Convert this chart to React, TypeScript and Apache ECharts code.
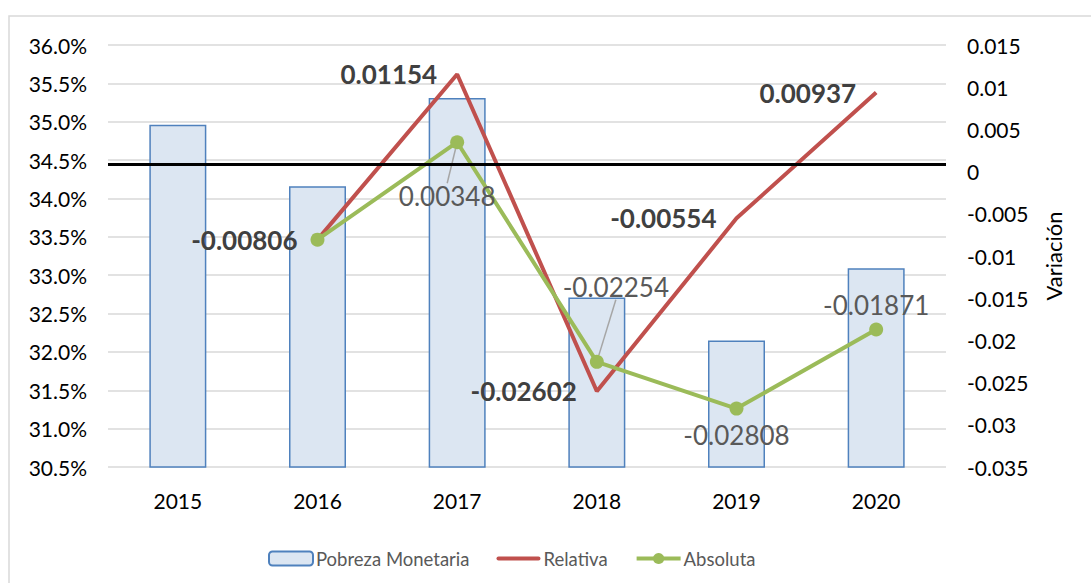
import React, { useEffect, useRef } from "react";
import * as echarts from "echarts";

const years = ["2015", "2016", "2017", "2018", "2019", "2020"];
const pobreza = [34.96, 34.16, 35.31, 32.71, 32.15, 33.09];
const relativa = [null, -0.00806, 0.01154, -0.02602, -0.00554, 0.00937];
const absoluta = [null, -0.00806, 0.00348, -0.02254, -0.02808, -0.01871];
const referenceLine = 34.44;

const FONT = "Lato";

export default function App() {
  const ref = useRef<HTMLDivElement>(null);
  useEffect(() => {
    if (!ref.current) return;
    const chart = echarts.init(ref.current, null, { renderer: "svg" });

    const absLabels: any[] = [
      { show: false },
      { show: false },
      { show: true, position: "bottom", distance: 34 },
      { show: true, position: "top", distance: 55 },
      { show: true, position: "bottom", distance: 6 },
      { show: true, position: "top", distance: 5, offset: [6, 0] },
    ];
    const absShift: any = { 2: { dx: -10, dy: 0 }, 3: { dx: 19, dy: 0 } };

    chart.setOption({
      animation: false,
      textStyle: { fontFamily: FONT },
      graphic: [
        {
          type: "rect",
          shape: { x: 9, y: 16, width: 1200, height: 700 },
          style: { fill: "none", stroke: "#d9d9d9", lineWidth: 1.5 },
          silent: true,
        },
      ],
      grid: { left: 108, right: 145, top: 45, bottom: 116 },
      legend: {
        left: 263,
        top: 544,
        itemWidth: 44,
        itemHeight: 14,
        itemGap: 27,
        lineStyle: { width: 4 },
        textStyle: { fontFamily: FONT, fontSize: 18.5, color: "#595959", padding: [0, 0, 0, -2] },
        data: [
          "Pobreza Monetaria",
          { name: "Relativa", icon: "path://M2,0 L42,0 A2,2 0 0 1 42,4 L2,4 A2,2 0 0 1 2,0 Z" },
          "Absoluta",
        ],
      },
      xAxis: {
        type: "category",
        data: years,
        axisLine: { show: false },
        axisTick: { show: false },
        axisLabel: { fontFamily: FONT, fontSize: 21, color: "#000", margin: 23 },
      },
      yAxis: [
        {
          type: "value",
          min: 30.5,
          max: 36,
          interval: 0.5,
          axisLine: { show: false },
          axisTick: { show: false },
          splitLine: { lineStyle: { color: "#d9d9d9", width: 1.5 } },
          axisLabel: {
            fontFamily: FONT,
            fontSize: 21,
            color: "#000",
            margin: 21,
            formatter: (v: number) => v.toFixed(1) + "%",
          },
        },
        {
          type: "value",
          min: -0.035,
          max: 0.015,
          interval: 0.005,
          name: "Variación",
          nameLocation: "middle",
          nameRotate: 90,
          nameGap: 96,
          nameTextStyle: { fontFamily: FONT, fontSize: 22, color: "#000" },
          axisLine: { show: false },
          axisTick: { show: false },
          splitLine: { show: false },
          axisLabel: {
            fontFamily: FONT,
            fontSize: 21,
            color: "#000",
            margin: 21,
            formatter: (v: number) => String(parseFloat(v.toFixed(4))),
          },
        },
      ],
      series: [
        {
          name: "Pobreza Monetaria",
          type: "bar",
          yAxisIndex: 0,
          data: pobreza,
          barWidth: 57,
          itemStyle: { color: "#DCE6F2", borderColor: "#4F81BD", borderWidth: 1.5 },
          markLine: {
            silent: true,
            symbol: "none",
            label: { show: false },
            lineStyle: { color: "#000", width: 3, type: "solid" },
            data: [{ yAxis: referenceLine }],
          },
        },
        {
          name: "Relativa",
          type: "line",
          yAxisIndex: 1,
          data: relativa,
          symbol: "circle",
          symbolSize: 0,
          showSymbol: true,
          itemStyle: { color: "#C0504D" },
          lineStyle: { color: "#C0504D", width: 4 },
          label: {
            show: true,
            position: "left",
            distance: 20,
            fontFamily: FONT,
            fontSize: 26,
            fontWeight: "bold",
            color: "#404040",
            formatter: (p: any) => String(p.value),
          },
          z: 3,
        },
        {
          name: "Absoluta",
          type: "line",
          yAxisIndex: 1,
          symbol: "circle",
          symbolSize: 14,
          itemStyle: { color: "#9BBB59" },
          lineStyle: { color: "#9BBB59", width: 4 },
          label: {
            show: true,
            fontFamily: FONT,
            fontSize: 26,
            color: "#595959",
            formatter: (p: any) => String(p.value),
          },
          labelLine: { show: false, lineStyle: { color: "#a6a6a6", width: 1.5 } },
          labelLayout: (p: any) => absShift[p.dataIndex] || {},
          data: absoluta.map((v, i) => ({
            value: v,
            label: absLabels[i],
            labelLine: { show: i === 2 || i === 3 },
          })),
          z: 4,
        },
      ],
    });
    return () => chart.dispose();
  }, []);
  return (
    <div
      ref={ref}
      style={{ position: "fixed", left: 0, top: 0, width: 1091, height: 583, background: "#fff" }}
    />
  );
}
